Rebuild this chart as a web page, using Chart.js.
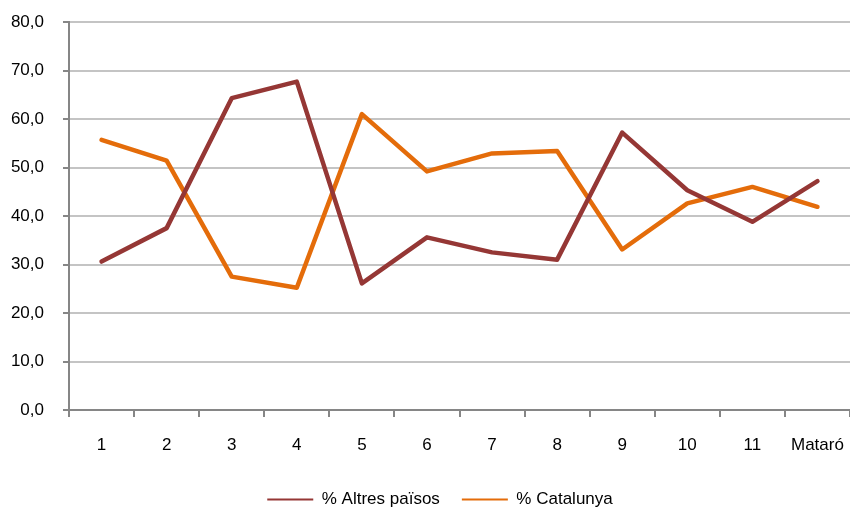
<!DOCTYPE html>
<html>
<head>
<meta charset="utf-8">
<script src="https://cdn.jsdelivr.net/npm/chart.js@4/dist/chart.umd.min.js"></script>
<style>
  html, body { margin: 0; padding: 0; background: #ffffff; }
  #wrap { width: 850px; height: 510px; }
</style>
</head>
<body>
<div id="wrap"><canvas id="chart" width="850" height="510"></canvas></div>
<script>
// Districts 1-11 plus the city total
const categories = ['1', '2', '3', '4', '5', '6', '7', '8', '9', '10', '11', 'Mataró'];

// Share of population by birthplace (%)
const altresPaisos = [30.6, 37.5, 64.3, 67.7, 26.1, 35.6, 32.5, 31.0, 57.2, 45.3, 38.8, 47.2];
const catalunya    = [55.7, 51.4, 27.5, 25.2, 61.0, 49.2, 52.9, 53.4, 33.1, 42.6, 46.0, 41.9];

const seriesNames = ['% Altres països', '% Catalunya'];
const yTicks = [0, 10, 20, 30, 40, 50, 60, 70, 80];

const FONT = '"Liberation Sans", Arial, sans-serif';
const RED = '#953735';
const ORANGE = '#E46C0A';
const AXIS = '#868686';

// Places the legend row slightly lower and a bit right of centre
const legendPlacement = {
  id: 'legendPlacement',
  afterLayout(chart) {
    const lg = chart.legend;
    if (!lg) return;
    const h = lg.height;
    lg.top = 469;
    lg.bottom = lg.top + h;
    lg.left = 15;
    lg.right = 865;
  }
};

new Chart(document.getElementById('chart'), {
  type: 'line',
  data: {
    labels: categories,
    datasets: [
      {
        label: seriesNames[0],
        data: altresPaisos,
        borderColor: RED,
        backgroundColor: RED,
        borderWidth: 4.5,
        pointRadius: 0,
        tension: 0,
        borderCapStyle: 'round',
        borderJoinStyle: 'round'
      },
      {
        label: seriesNames[1],
        data: catalunya,
        borderColor: ORANGE,
        backgroundColor: ORANGE,
        borderWidth: 4.5,
        pointRadius: 0,
        tension: 0,
        borderCapStyle: 'round',
        borderJoinStyle: 'round'
      }
    ]
  },
  plugins: [legendPlacement],
  options: {
    responsive: false,
    devicePixelRatio: 1,
    animation: false,
    layout: { padding: { top: 22, left: 0, right: 0, bottom: 0 } },
    plugins: {
      tooltip: { enabled: false },
      legend: {
        position: 'bottom',
        labels: {
          color: '#000000',
          font: { family: FONT, size: 17 },
          boxWidth: 46,
          boxHeight: 2,
          padding: 22,
          generateLabels: (chart) => {
            const items = Chart.defaults.plugins.legend.labels.generateLabels(chart);
            items.forEach(it => { it.lineWidth = 0; });
            return items;
          }
        }
      }
    },
    scales: {
      x: {
        offset: true,
        grid: {
          offset: true,
          drawOnChartArea: false,
          drawTicks: true,
          tickLength: 7,
          color: AXIS,
          lineWidth: 2
        },
        border: { color: AXIS, width: 2 },
        ticks: {
          color: '#000000',
          font: { family: FONT, size: 17 },
          padding: 18,
          maxRotation: 0,
          autoSkip: false
        },
        afterFit: (s) => {
          s.height = 51;
          s.paddingLeft = 0;
          s.paddingRight = 0;
        }
      },
      y: {
        min: 0,
        max: 80,
        afterBuildTicks: (s) => { s.ticks = yTicks.map(v => ({ value: v })); },
        grid: {
          color: '#C4C4C4',
          lineWidth: 2,
          drawTicks: true,
          tickLength: 6,
          tickColor: AXIS
        },
        border: { color: AXIS, width: 2 },
        ticks: {
          color: '#000000',
          font: { family: FONT, size: 17 },
          padding: 19,
          callback: (v) => Number(v).toFixed(1).replace('.', ',')
        },
        afterFit: (s) => {
          s.width = 69;
          s.paddingTop = 0;
          s.paddingBottom = 0;
        }
      }
    }
  }
});
</script>
</body>
</html>
